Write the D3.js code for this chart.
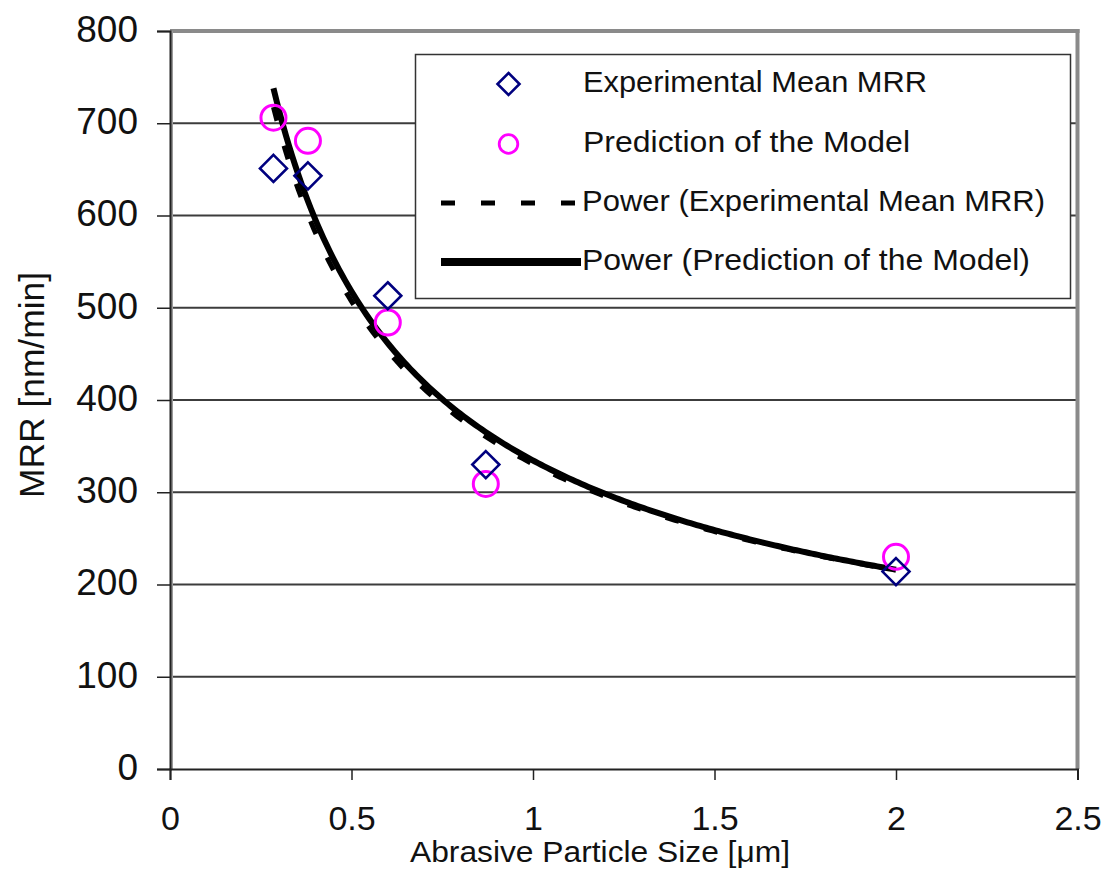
<!DOCTYPE html>
<html>
<head>
<meta charset="utf-8">
<script src="https://cdn.jsdelivr.net/npm/d3@7"></script>
<style>
  html, body { margin: 0; padding: 0; background: #fff; }
  svg text { font-family: "Liberation Sans", Arial, sans-serif; fill: #111; }
</style>
</head>
<body>
<svg id="chart" width="1114" height="871"></svg>
<script>
// Abrasive particle size (µm) for each test
const particleSize = [0.285, 0.38, 0.6, 0.87, 2.0];
// Measured mean material removal rate (nm/min)
const experimentalMRR = [651, 643, 513, 330, 214];
// Model prediction (nm/min)
const predictedMRR = [706, 681, 484, 309, 230];

const xTicks = [0, 0.5, 1, 1.5, 2, 2.5];
const yTicks = [0, 100, 200, 300, 400, 500, 600, 700, 800];

const legendLabels = [
  "Experimental Mean MRR",
  "Prediction of the Model",
  "Power (Experimental Mean MRR)",
  "Power (Prediction of the Model)"
];

const svg = d3.select("#chart");
const x = d3.scaleLinear().domain([0, 2.5]).range([170, 1077.5]);
const y = d3.scaleLinear().domain([0, 800]).range([769, 31]);

// Least-squares power fit y = a * x^b in log space (spreadsheet "Power" trendline)
function powerFit(xs, ys) {
  const lx = xs.map(Math.log), ly = ys.map(Math.log);
  const mx = d3.mean(lx), my = d3.mean(ly);
  const b = d3.sum(lx, (v, i) => (v - mx) * (ly[i] - my)) / d3.sum(lx, v => (v - mx) * (v - mx));
  const a = Math.exp(my - b * mx);
  return v => a * Math.pow(v, b);
}

// horizontal gridlines
svg.append("g")
  .selectAll("line")
  .data(yTicks.filter(t => t > 0 && t < 800))
  .join("line")
  .attr("x1", x(0)).attr("x2", x(2.5))
  .attr("y1", d => y(d)).attr("y2", d => y(d))
  .attr("stroke", "#3c3c3c").attr("stroke-width", 1.8);

// plot frame: grey top and right edges
svg.append("line")
  .attr("x1", x(0)).attr("x2", x(2.5) + 2)
  .attr("y1", y(800)).attr("y2", y(800))
  .attr("stroke", "#8a8a8a").attr("stroke-width", 4);
svg.append("line")
  .attr("x1", x(2.5)).attr("x2", x(2.5))
  .attr("y1", y(800) - 2).attr("y2", y(0))
  .attr("stroke", "#8a8a8a").attr("stroke-width", 4);
svg.append("line")
  .attr("x1", x(0) + 2).attr("x2", x(0) + 2)
  .attr("y1", y(800)).attr("y2", y(0))
  .attr("stroke", "#9a9a9a").attr("stroke-width", 2);

// y axis
const yAxis = svg.append("g")
  .attr("transform", `translate(${x(0)},0)`)
  .call(d3.axisLeft(y).tickValues(yTicks).tickSize(13).tickPadding(19).tickFormat(d3.format("d")));
yAxis.select(".domain").attr("stroke", "#222").attr("stroke-width", 2);
yAxis.selectAll(".tick line").attr("stroke", "#222").attr("stroke-width", 1.5);
yAxis.selectAll(".tick text")
  .attr("font-size", 37).attr("dy", "0.28em")
  .style("font-family", '"Liberation Sans", Arial, sans-serif').attr("fill", "#111");

// x axis
const xAxis = svg.append("g")
  .attr("transform", `translate(0,${y(0)})`)
  .call(d3.axisBottom(x).tickValues(xTicks).tickSize(11).tickPadding(0).tickFormat(d => String(d)));
xAxis.select(".domain").attr("stroke", "#222").attr("stroke-width", 2);
xAxis.selectAll(".tick line").attr("stroke", "#222").attr("stroke-width", 1.5);
xAxis.selectAll(".tick text")
  .attr("font-size", 34).attr("y", 61).attr("dy", 0)
  .style("font-family", '"Liberation Sans", Arial, sans-serif').attr("fill", "#111");

// axis titles
svg.append("text")
  .attr("x", 600).attr("y", 862)
  .attr("text-anchor", "middle")
  .attr("font-size", 29)
  .attr("textLength", 380).attr("lengthAdjust", "spacingAndGlyphs")
  .text("Abrasive Particle Size [\u03BCm]");
svg.append("text")
  .attr("transform", "translate(44,385) rotate(-90)")
  .attr("text-anchor", "middle")
  .attr("font-size", 35)
  .attr("textLength", 226).attr("lengthAdjust", "spacingAndGlyphs")
  .text("MRR [nm/min]");

// power trendlines, drawn across the range of the data
const xmin = d3.min(particleSize), xmax = d3.max(particleSize);
const samples = d3.range(0, 201).map(i => xmin + (xmax - xmin) * i / 200);
const fitExp = powerFit(particleSize, experimentalMRR);
const fitPred = powerFit(particleSize, predictedMRR);
const line = f => d3.line().x(d => x(d)).y(d => y(f(d)))(samples);

svg.append("path")
  .attr("d", line(fitPred))
  .attr("fill", "none").attr("stroke", "#000").attr("stroke-width", 6);
svg.append("path")
  .attr("d", line(fitExp))
  .attr("fill", "none").attr("stroke", "#000").attr("stroke-width", 5)
  .attr("stroke-dasharray", "14 26");

// model prediction markers
svg.append("g")
  .selectAll("circle")
  .data(particleSize.map((v, i) => [v, predictedMRR[i]]))
  .join("circle")
  .attr("cx", d => x(d[0])).attr("cy", d => y(d[1]))
  .attr("r", 12.5)
  .attr("fill", "none").attr("stroke", "#ff00ff").attr("stroke-width", 3);

// experimental markers (diamonds)
const diamond = (cx, cy, r) => `M${cx},${cy - r}L${cx + r},${cy}L${cx},${cy + r}L${cx - r},${cy}Z`;
svg.append("g")
  .selectAll("path")
  .data(particleSize.map((v, i) => [v, experimentalMRR[i]]))
  .join("path")
  .attr("d", d => diamond(x(d[0]), y(d[1]), 13.5))
  .attr("fill", "none").attr("stroke", "#00007f").attr("stroke-width", 2.6);

// legend
const lg = svg.append("g");
lg.append("rect")
  .attr("x", 415.5).attr("y", 54.5).attr("width", 655).attr("height", 244)
  .attr("fill", "#fff").attr("stroke", "#333").attr("stroke-width", 1.5);

const rowY = [84, 144, 203, 262];
const rowW = [344, 327, 463, 448];
const textX = [583, 583, 582, 582];

lg.append("path")
  .attr("d", diamond(508.5, rowY[0], 11))
  .attr("fill", "none").attr("stroke", "#00007f").attr("stroke-width", 2.6);
lg.append("circle")
  .attr("cx", 508.5).attr("cy", rowY[1]).attr("r", 9.3)
  .attr("fill", "none").attr("stroke", "#ff00ff").attr("stroke-width", 2.8);
lg.append("line")
  .attr("x1", 441).attr("x2", 581).attr("y1", rowY[2]).attr("y2", rowY[2])
  .attr("stroke", "#000").attr("stroke-width", 5).attr("stroke-dasharray", "14 26");
lg.append("line")
  .attr("x1", 441).attr("x2", 581).attr("y1", rowY[3]).attr("y2", rowY[3])
  .attr("stroke", "#000").attr("stroke-width", 8);

lg.selectAll("text.leg")
  .data(legendLabels)
  .join("text")
  .attr("class", "leg")
  .attr("x", (d, i) => textX[i]).attr("y", (d, i) => rowY[i] + 8)
  .attr("font-size", 30)
  .attr("textLength", (d, i) => rowW[i]).attr("lengthAdjust", "spacingAndGlyphs")
  .text(d => d);
</script>
</body>
</html>
